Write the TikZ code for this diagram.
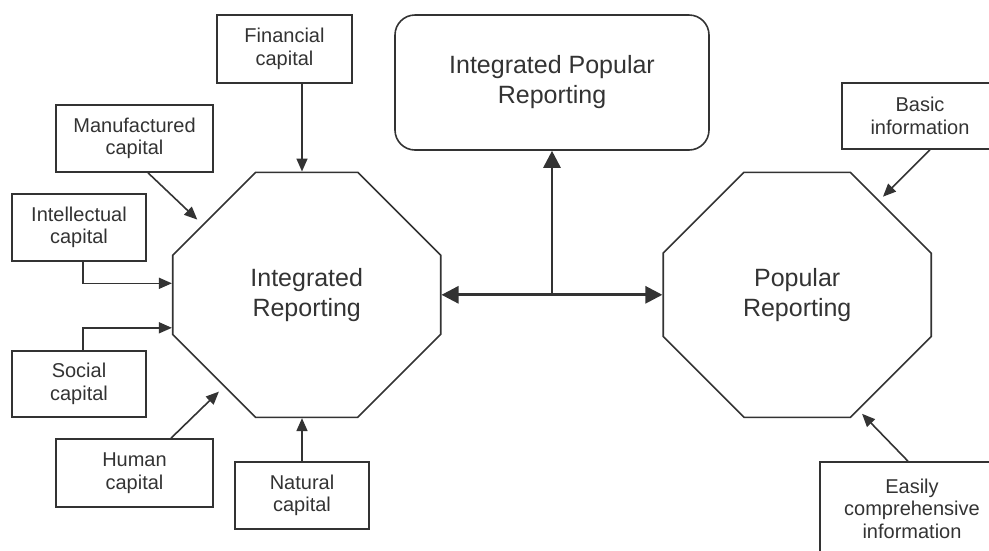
\documentclass[tikz,border=0pt]{standalone}
\usepackage{fontspec}
\setmainfont{Liberation Sans}
\usetikzlibrary{shapes.misc,arrows.meta}
\definecolor{ink}{HTML}{333333}

\begin{document}
\begin{tikzpicture}
            [
                x=1pt, y=-1pt,
                capbox/.style={draw=ink, line width=1.6pt, text=ink, align=center,
                    inner sep=0pt, font=\fontsize{20}{22.5}\selectfont},
                report/.style={chamfered rectangle, chamfered rectangle sep=71.5pt,
                    draw=ink, line width=1.6pt, text=ink, align=center, inner sep=0pt,
                    minimum width=268pt, minimum height=245pt,
                    font=\fontsize{25}{30}\selectfont},
                link/.style={->, draw=ink, line width=1.6pt},
                bond/.style={draw=ink, line width=2.8pt},
                >={Triangle[length=13pt, width=11pt]}
            ]
            \useasboundingbox (0,0) rectangle (989,550);
            % the two reports
            \node [report] (IR) at (306.7,294.8) {Integrated\\Reporting};
            \node [report] (PR) at (797.2,294.8) {Popular\\Reporting};
            \node [draw=ink, line width=1.6pt, rounded corners=20pt, text=ink,
                align=center, minimum width=314pt, minimum height=135pt,
                font=\fontsize{25}{30}\selectfont] (IPR) at (552,82.5)
                {Integrated Popular\\Reporting};
            % capitals
            \node [capbox, minimum width=135pt, minimum height=68pt] (Fin) at (284.5,49) {Financial\\capital};
            \node [capbox, minimum width=157pt, minimum height=67pt] (Man) at (134.5,138.5) {Manufactured\\capital};
            \node [capbox, minimum width=134pt, minimum height=67pt] (Int) at (79,227.5) {Intellectual\\capital};
            \node [capbox, minimum width=134pt, minimum height=66pt] (Soc) at (79,384) {Social\\capital};
            \node [capbox, minimum width=157pt, minimum height=68pt] (Hum) at (134.5,473) {Human\\capital};
            \node [capbox, minimum width=134pt, minimum height=67pt] (Nat) at (302,495.5) {Natural\\capital};
            % information
            \node [capbox, minimum width=156pt, minimum height=66pt] (Bas) at (920,116) {Basic\\information};
            \node [capbox, minimum width=184pt, minimum height=93pt] (Eas) at (912,508.5) {Easily\\comprehensive\\information};

            \draw [link] (Fin.south -| Nat.north) -- (IR.north -| Nat.north);
            \draw [link, shorten >=7pt] ([xshift=13.5pt]Man.south) -- (IR.146);
            \draw [link] ([xshift=4pt]Int.south) |- ([yshift=11.5pt]IR.west);
            \draw [link] ([xshift=4pt]Soc.north) |- ([yshift=-33pt]IR.west);
            \draw [link, shorten >=7pt] ([xshift=36.5pt]Hum.north) -- (IR.228);
            \draw [link] (Nat.north) -- (IR.south -| Nat.north);
            \draw [link, shorten >=5pt] ([xshift=10pt]Bas.south) -- (PR.49);
            \draw [link, shorten >=5pt] ([xshift=-4pt]Eas.north) -- (PR.298);

            \draw [bond, {Triangle[length=17pt, width=17pt]}-{Triangle[length=17pt, width=17pt]}] (IR.east) -- (PR.west);
            \draw [bond, -{Triangle[length=17pt, width=17pt]}] (IR.east -| IPR.south) -- (IPR.south);
        \end{tikzpicture}
\end{document}
